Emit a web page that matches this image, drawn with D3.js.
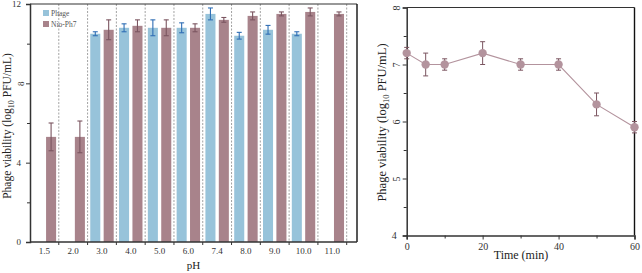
<!DOCTYPE html>
<html><head><meta charset="utf-8">
<script src="https://cdn.jsdelivr.net/npm/d3@7"></script>
<style>body{margin:0;background:#fff}svg{display:block;font-family:"Liberation Serif","DejaVu Serif",serif}</style>
</head><body><svg id="c" width="642" height="273"></svg>
<script>
// ---- Left chart data ----
const phLabels = ["1.5","2.0","3.0","4.0","5.0","6.0","7.4","8.0","9.0","10.0","11.0"];
const seriesNames = ["Phage","Nio-Ph7"];
const phageMean = [null,null,10.5,10.8,10.8,10.8,11.5,10.4,10.7,10.5,null];
const phageErr  = [null,null,0.1,0.2,0.4,0.25,0.3,0.17,0.22,0.1,null];
const nioMean   = [5.3,5.3,10.7,10.9,10.8,10.8,11.2,11.4,11.5,11.6,11.5];
const nioErr    = [0.7,0.8,0.5,0.3,0.4,0.2,0.12,0.2,0.1,0.2,0.1];
const leftYTicks = [0,4,8,12];
const leftYMinor = [2,6,10];
// ---- Right chart data ----
const timeMin = [0,5,10,20,30,40,50,60];
const timeMean = [7.2,7.0,7.0,7.2,7.0,7.0,6.3,5.9];
const timeErr  = [0.1,0.2,0.1,0.2,0.1,0.1,0.2,0.1];
const rightXTicks = [0,20,40,60];
const rightXMinor = [10,30,50];
const rightYTicks = [4,5,6,7,8];
const rightYMinor = [4.5,5.5,6.5,7.5];

const colors = {"Phage":"#97c3da","Nio-Ph7":"#a8838b"};
const errColors = {"Phage":"#2f6eb5","Nio-Ph7":"#7b5560"};
const axisCol = "#333";
const svg = d3.select("#c");

// ================= LEFT =================
const L = {x0:30, x1:357, y0:4, y1:242};
const x = d3.scaleBand().domain(phLabels).range([L.x0, 346.7]).padding(0);
const x1 = d3.scaleBand().domain(seriesNames).range([0, x.bandwidth()]).paddingInner(0.25).paddingOuter(0.2);
const y = d3.scaleLinear().domain([0,12]).range([L.y1, L.y0]);

const gl = svg.append("g");
gl.selectAll("line.sep").data(phLabels).join("line")
  .attr("x1", d=>x(d)+x.bandwidth()).attr("x2", d=>x(d)+x.bandwidth())
  .attr("y1", L.y0).attr("y2", L.y1)
  .attr("stroke","#8a8a8a").attr("stroke-width",0.8).attr("stroke-dasharray","2,1.5");

const rows = [];
phLabels.forEach((p,i)=>{
  if (phageMean[i]!=null) rows.push({p, s:"Phage", m:phageMean[i], e:phageErr[i]});
  if (nioMean[i]!=null) rows.push({p, s:"Nio-Ph7", m:nioMean[i], e:nioErr[i]});
});
gl.selectAll("rect.bar").data(rows).join("rect")
  .attr("x", d=>x(d.p)+x1(d.s)).attr("width", x1.bandwidth())
  .attr("y", d=>y(d.m)).attr("height", d=>y(0)-y(d.m))
  .attr("fill", d=>colors[d.s]);
const cx = d=>x(d.p)+x1(d.s)+x1.bandwidth()/2;
const eg = gl.selectAll("g.err").data(rows).join("g")
  .attr("stroke", d=>errColors[d.s]).attr("stroke-width",1.1);
eg.append("line").attr("x1",cx).attr("x2",cx).attr("y1",d=>y(d.m+d.e)).attr("y2",d=>y(d.m-d.e));
eg.append("line").attr("x1",d=>cx(d)-2.5).attr("x2",d=>cx(d)+2.5).attr("y1",d=>y(d.m+d.e)).attr("y2",d=>y(d.m+d.e));
eg.append("line").attr("x1",d=>cx(d)-2.5).attr("x2",d=>cx(d)+2.5).attr("y1",d=>y(d.m-d.e)).attr("y2",d=>y(d.m-d.e));

gl.append("line").attr("x1",L.x0).attr("x2",L.x1).attr("y1",L.y0).attr("y2",L.y0).attr("stroke",axisCol).attr("stroke-width",1.2);
gl.append("line").attr("x1",L.x1).attr("x2",L.x1).attr("y1",L.y0).attr("y2",L.y1).attr("stroke","#111").attr("stroke-width",1.4);
const gy = gl.append("g").attr("transform",`translate(${L.x0},0)`)
  .call(d3.axisLeft(y).tickValues(leftYTicks).tickFormat(d3.format("d")).tickSize(4).tickPadding(5));
gl.append("g").attr("transform",`translate(${L.x0},0)`).call(d3.axisLeft(y).tickValues(leftYMinor).tickFormat("").tickSize(3))
  .select(".domain").remove();
const gx = gl.append("g").attr("transform",`translate(0,${L.y1})`).call(d3.axisBottom(x).tickSize(0).tickPadding(6));
gx.select(".domain").attr("d",`M${L.x0},0H${L.x1}`);
gl.selectAll("line.bt").data(phLabels).join("line")
  .attr("x1", d=>x(d)+x.bandwidth()).attr("x2", d=>x(d)+x.bandwidth())
  .attr("y1", L.y1).attr("y2", L.y1+3).attr("stroke",axisCol).attr("stroke-width",1);
[gy,gx].forEach(g=>{
  g.selectAll(".domain").attr("stroke",axisCol).attr("stroke-width",1.5);
  g.selectAll("text").attr("font-family","Liberation Serif").attr("font-size",9).attr("fill","#333");
});
gl.selectAll(".tick line").attr("stroke",axisCol);
gy.selectAll(".tick text").filter(d=>d===8)
  .attr("transform","rotate(-90,-9,0)").attr("text-anchor","middle").attr("x",-9).attr("dy","0.35em");
gl.append("text").attr("transform",`translate(11,${(L.y0+L.y1)/2+3}) rotate(-90)`).attr("text-anchor","middle")
  .attr("font-size",11.5).attr("fill","#222")
  .html('Phage viability (log<tspan font-size="8" dy="3">10</tspan><tspan dy="-3"> PFU/mL)</tspan>');
gl.append("text").attr("x",(L.x0+L.x1)/2).attr("y",269).attr("text-anchor","middle").attr("font-size",11).attr("fill","#222").text("pH");
const leg = gl.append("g").attr("transform","translate(43,10)");
seriesNames.forEach((s,i)=>{
  leg.append("rect").attr("x",0).attr("y",i*11).attr("width",6).attr("height",6).attr("fill",colors[s]);
  leg.append("text").attr("x",8).attr("y",i*11+6).attr("font-size",7.5).attr("fill","#555").text(s);
});

// ================= RIGHT =================
const R = {x0:406.7, x1:634.5, y0:7.5, y1:235.5};
const xr = d3.scaleLinear().domain([0,60]).range([R.x0,R.x1]);
const yr = d3.scaleLinear().domain([4,8]).range([R.y1,R.y0]);
const gr = svg.append("g");
gr.append("line").attr("x1",R.x0).attr("x2",R.x1).attr("y1",R.y0).attr("y2",R.y0).attr("stroke",axisCol).attr("stroke-width",1.2);
gr.append("line").attr("x1",R.x1).attr("x2",R.x1).attr("y1",R.y0).attr("y2",R.y1).attr("stroke","#111").attr("stroke-width",1.4);
const gyr = gr.append("g").attr("transform",`translate(${R.x0},0)`)
  .call(d3.axisLeft(yr).tickValues(rightYTicks).tickFormat(d3.format("d")).tickSize(4).tickPadding(6));
gr.append("g").attr("transform",`translate(${R.x0},0)`).call(d3.axisLeft(yr).tickValues(rightYMinor).tickFormat("").tickSize(3)).select(".domain").remove();
const gxr = gr.append("g").attr("transform",`translate(0,${R.y1})`)
  .call(d3.axisBottom(xr).tickValues(rightXTicks).tickFormat(d3.format("d")).tickSize(4).tickPadding(3));
gr.append("g").attr("transform",`translate(0,${R.y1})`).call(d3.axisBottom(xr).tickValues(rightXMinor).tickFormat("").tickSize(3)).select(".domain").remove();
[gyr,gxr].forEach(g=>{
  g.selectAll(".domain").attr("stroke",axisCol).attr("stroke-width",1.5);
  g.selectAll("text").attr("font-family","Liberation Serif").attr("font-size",10).attr("fill","#333");
});
gr.selectAll(".tick line").attr("stroke",axisCol);
gyr.selectAll(".tick text").filter(d=>d!==4)
  .attr("transform","rotate(-90,-10,0)").attr("text-anchor","middle").attr("x",-10).attr("dy","0.35em");

const pts = timeMin.map((t,i)=>({t, m:timeMean[i], e:timeErr[i]}));
gr.append("path").datum(pts).attr("fill","none").attr("stroke","#b3939d").attr("stroke-width",1.1)
  .attr("d", d3.line().x(d=>xr(d.t)).y(d=>yr(d.m)));
const er = gr.selectAll("g.e").data(pts).join("g").attr("stroke","#7b5560").attr("stroke-width",1);
er.append("line").attr("x1",d=>xr(d.t)).attr("x2",d=>xr(d.t)).attr("y1",d=>yr(d.m+d.e)).attr("y2",d=>yr(d.m-d.e));
er.append("line").attr("x1",d=>xr(d.t)-2.5).attr("x2",d=>xr(d.t)+2.5).attr("y1",d=>yr(d.m+d.e)).attr("y2",d=>yr(d.m+d.e));
er.append("line").attr("x1",d=>xr(d.t)-2.5).attr("x2",d=>xr(d.t)+2.5).attr("y1",d=>yr(d.m-d.e)).attr("y2",d=>yr(d.m-d.e));
gr.selectAll("circle").data(pts).join("circle").attr("cx",d=>xr(d.t)).attr("cy",d=>yr(d.m)).attr("r",4.2)
  .attr("fill","#b3939d");
gr.append("text").attr("transform",`translate(386,${(R.y0+R.y1)/2+1}) rotate(-90)`).attr("text-anchor","middle")
  .attr("font-size",12.5).attr("fill","#222")
  .html('Phage viability (log<tspan font-size="8.5" dy="3">10</tspan><tspan dy="-3"> PFU/mL)</tspan>');
gr.append("text").attr("x",521).attr("y",259).attr("text-anchor","middle").attr("font-size",12).attr("fill","#222").text("Time (min)");
</script></body></html>
